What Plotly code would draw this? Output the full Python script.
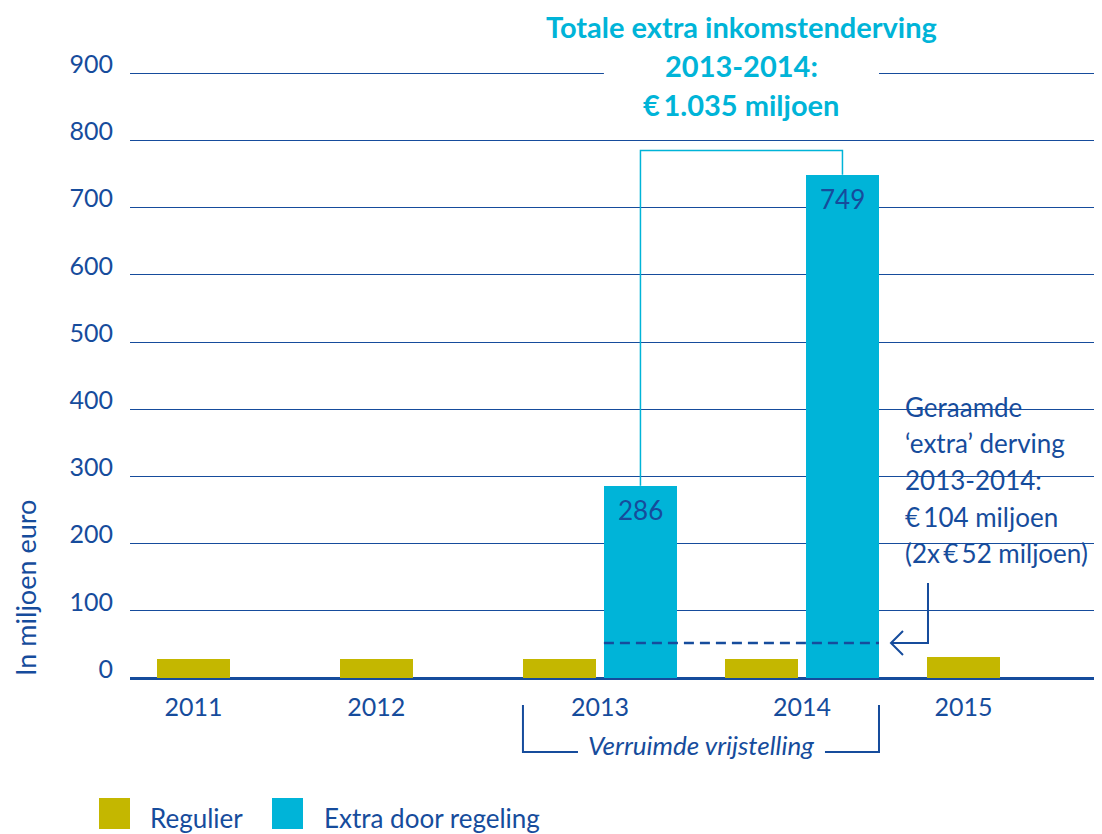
import plotly.graph_objects as go

# ---------------- data ----------------
years = ["2011", "2012", "2013", "2014", "2015"]
regulier = [29, 28, 29, 29, 31]
extra = [None, None, 286, 749, None]
geraamd_per_jaar = 52
series_names = ["Regulier", "Extra door regeling"]
y_ticks = [0, 100, 200, 300, 400, 500, 600, 700, 800, 900]
title_lines = ["Totale extra inkomstenderving", "2013-2014:", "€\u20091.035 miljoen"]
note_lines = ["Geraamde", "‘extra’ derving", "2013-2014:", "€\u2009104 miljoen", "(2x\u2009€\u200952 miljoen)"]
bracket_text = "Verruimde vrijstelling"
axis_title = "In miljoen euro"

# ---------------- layout / style ----------------
OFF = 8                      # page body margin
W, H = 1102 - OFF, 834 - OFF
PLOT_L, PLOT_R = 130, 1100   # page pixels
PLOT_T, PLOT_B = 70, 678
X_RANGE = [-0.329, 4.703]
Y_RANGE = [0, 905]
slot_pos = [0, 0.949, 2.109, 3.157, 3.995]   # category slot centres
BAR_W = 0.379
PAIR_OFF = 0.21

YELLOW = "#c4b700"
CYAN = "#00b4d8"
DARK = "#164c9c"
FONT = "Lato"

M_L, M_R, M_T, M_B = PLOT_L - OFF, W - (PLOT_R - OFF), PLOT_T - OFF, H - (PLOT_B - OFF)
PW = PLOT_R - PLOT_L
PH = PLOT_B - PLOT_T


def xpx(x):
    return PLOT_L + (x - X_RANGE[0]) / (X_RANGE[1] - X_RANGE[0]) * PW


def ypx(y):
    return PLOT_B - (y - Y_RANGE[0]) / (Y_RANGE[1] - Y_RANGE[0]) * PH


def xp(px):
    return (px - PLOT_L) / PW


def yp(py):
    return (PLOT_B - py) / PH


reg_x = [p - PAIR_OFF if e is not None else p for p, e in zip(slot_pos, extra)]
ext_x = [p + PAIR_OFF for p, e in zip(slot_pos, extra) if e is not None]
ext_v = [e for e in extra if e is not None]

fig = go.Figure()
fig.add_trace(go.Bar(x=reg_x, y=regulier, width=BAR_W, marker=dict(color=YELLOW, line_width=0),
                     name=series_names[0], showlegend=False, hoverinfo="skip"))
fig.add_trace(go.Bar(x=ext_x, y=ext_v, width=BAR_W, marker=dict(color=CYAN, line_width=0),
                     name=series_names[1], showlegend=False, hoverinfo="skip"))

shapes = []
annotations = []

# value labels inside blue bars
for x, v in zip(ext_x, ext_v):
    annotations.append(dict(x=x, y=v, xref="x", yref="y", text=str(v), showarrow=False,
                            yshift=-24, yanchor="middle",
                            font=dict(family=FONT, size=26, color=DARK)))

# connector between blue bars
conn_top = 785
x1, x2 = ext_x[0], ext_x[1]
shapes.append(dict(type="path", xref="x", yref="y",
                   path=f"M {x1},{ext_v[0]} L {x1},{conn_top} L {x2},{conn_top} L {x2},{ext_v[1]}",
                   line=dict(color=CYAN, width=1.5)))

# white gap in the 900 gridline behind the title
gap_l = xpx(ext_x[0] - BAR_W / 2)
gap_r = xpx(ext_x[1] + BAR_W / 2)
shapes.append(dict(type="rect", xref="paper", yref="paper", layer="above",
                   x0=xp(gap_l), x1=xp(gap_r), y0=yp(ypx(900) + 3), y1=yp(ypx(900) - 3),
                   fillcolor="white", line_width=0))

# title
title_cx = xp((xpx(x1) + xpx(x2)) / 2)
for i, t in enumerate(title_lines):
    annotations.append(dict(x=title_cx, y=yp(27 + 38.5 * i), xref="paper", yref="paper",
                            text=f"<b>{t}</b>", showarrow=False, xanchor="center", yanchor="middle",
                            font=dict(family=FONT, size=29, color=CYAN)))

# dashed estimated line
dash_l = xpx(ext_x[0] - BAR_W / 2)
dash_r = xpx(ext_x[1] + BAR_W / 2)
shapes.append(dict(type="line", xref="paper", yref="paper",
                   x0=xp(dash_l), x1=xp(dash_r), y0=yp(ypx(geraamd_per_jaar)), y1=yp(ypx(geraamd_per_jaar)),
                   line=dict(color=DARK, width=2.5, dash="10px,6px"), layer="above"))

# arrow
ay_px = ypx(geraamd_per_jaar)
tip = dash_r + 12
vx = dash_r + 49
shapes.append(dict(type="path", xref="paper", yref="paper",
                   path=f"M {xp(vx)},{yp(583)} L {xp(vx)},{yp(ay_px)} L {xp(tip)},{yp(ay_px)}",
                   line=dict(color=DARK, width=2)))
shapes.append(dict(type="path", xref="paper", yref="paper",
                   path=f"M {xp(tip + 12)},{yp(ay_px - 12)} L {xp(tip)},{yp(ay_px)} L {xp(tip + 12)},{yp(ay_px + 12)}",
                   line=dict(color=DARK, width=2)))

# note text
note_x = xp(dash_r + 24)
for i, t in enumerate(note_lines):
    annotations.append(dict(x=note_x, y=yp(407 + 36.5 * i), xref="paper", yref="paper",
                            text=t, showarrow=False, xanchor="left", yanchor="middle",
                            font=dict(family=FONT, size=26, color=DARK)))

# bracket below 2013-2014
b_l = xpx(reg_x[2] - BAR_W / 2)
b_r = dash_r
b_top, b_bot = 705, 752
b_mid = (b_l + b_r) / 2
shapes.append(dict(type="path", xref="paper", yref="paper",
                   path=f"M {xp(b_l)},{yp(b_top)} L {xp(b_l)},{yp(b_bot)} L {xp(b_mid - 123)},{yp(b_bot)}",
                   line=dict(color=DARK, width=2)))
shapes.append(dict(type="path", xref="paper", yref="paper",
                   path=f"M {xp(b_mid + 124)},{yp(b_bot)} L {xp(b_r)},{yp(b_bot)} L {xp(b_r)},{yp(b_top)}",
                   line=dict(color=DARK, width=2)))
annotations.append(dict(x=xp(b_mid), y=yp(745), xref="paper", yref="paper",
                        text=f"<i>{bracket_text}</i>", showarrow=False, xanchor="center", yanchor="middle",
                        font=dict(family=FONT, size=26, color=DARK)))

# axis title
annotations.append(dict(x=xp(25), y=yp(PLOT_B), xref="paper", yref="paper", text=axis_title,
                        textangle=-90, showarrow=False, xanchor="center", yanchor="bottom",
                        font=dict(family=FONT, size=27, color=DARK)))

# custom legend
leg = [(99, YELLOW, series_names[0], 148), (272, CYAN, series_names[1], 322)]
for sx, col, name, tx in leg:
    shapes.append(dict(type="rect", xref="paper", yref="paper",
                       x0=xp(sx), x1=xp(sx + 31), y0=yp(829), y1=yp(798),
                       fillcolor=col, line_width=0))
    annotations.append(dict(x=xp(tx), y=yp(818), xref="paper", yref="paper", text=name,
                            showarrow=False, xanchor="left", yanchor="middle",
                            font=dict(family=FONT, size=26, color=DARK)))

fig.update_layout(
    width=W, height=H,
    margin=dict(l=M_L, r=M_R, t=M_T, b=M_B, pad=0),
    plot_bgcolor="white", paper_bgcolor="white",
    barmode="overlay", bargap=0,
    shapes=shapes, annotations=annotations,
    showlegend=False,
    font=dict(family=FONT, color=DARK),
    xaxis=dict(range=X_RANGE, tickmode="array", tickvals=slot_pos, ticktext=years,
               showgrid=False, zeroline=False, showline=False, ticks="",
               tickfont=dict(family=FONT, size=25, color=DARK), ticklabelstandoff=12),
    yaxis=dict(range=Y_RANGE, tickmode="array", tickvals=y_ticks,
               showgrid=True, gridcolor=DARK, gridwidth=1,
               zeroline=True, zerolinecolor=DARK, zerolinewidth=3,
               showline=False, ticks="",
               tickfont=dict(family=FONT, size=25, color=DARK),
               ticklabelstandoff=16, ticklabelshift=-9),
)

fig.write_html("out.html")
